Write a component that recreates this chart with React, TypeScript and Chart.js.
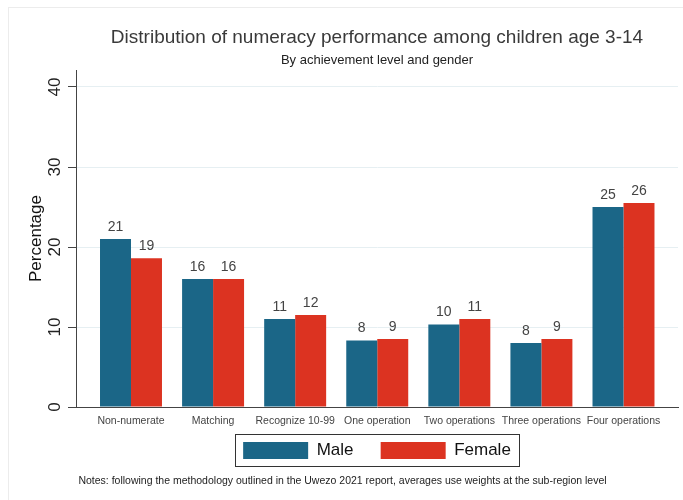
import React, { useEffect, useRef } from 'react';
import { Chart, registerables } from 'chart.js';

Chart.register(...registerables);

const categories = ['Non-numerate', 'Matching', 'Recognize 10-99', 'One operation', 'Two operations', 'Three operations', 'Four operations'];
const maleValues = [21.0, 16.0, 11.0, 8.3, 10.3, 8.0, 25.0];
const femaleValues = [18.6, 16.0, 11.5, 8.5, 11.0, 8.5, 25.5];
const seriesNames = ['Male', 'Female'];
const yTickStep = 10;
const titleText = 'Distribution of numeracy performance among children age 3-14';
const subtitleText = 'By achievement level and gender';
const yTitleText = 'Percentage';
const notesText = 'Notes: following the methodology outlined in the Uwezo 2021 report, averages use weights at the sub-region level';

const FONT = '"Liberation Sans", Arial, Helvetica, sans-serif';
const BLUE = '#1b6687';
const RED = '#dc3321';

const valueLabelPlugin = {
  id: 'valueLabels',
  afterDatasetsDraw(chart: any) {
    const ctx = chart.ctx;
    ctx.save();
    ctx.font = `14px ${FONT}`;
    ctx.fillStyle = '#444';
    ctx.textAlign = 'center';
    ctx.textBaseline = 'middle';
    chart.data.datasets.forEach((ds: any, di: number) => {
      const meta = chart.getDatasetMeta(di);
      meta.data.forEach((el: any, i: number) => {
        const v = ds.data[i].y;
        ctx.fillText(String(Math.round(v)), el.x, el.y - 12);
      });
    });
    ctx.restore();
  },
};

const decorPlugin = {
  id: 'decor',
  beforeDraw(chart: any) {
    const ctx = chart.ctx;
    ctx.save();
    ctx.fillStyle = '#ffffff';
    ctx.fillRect(0, 0, chart.width, chart.height);
    ctx.strokeStyle = '#ececec';
    ctx.lineWidth = 1;
    ctx.strokeRect(8.5, 7.5, chart.width + 20, chart.height + 20);
    ctx.restore();
  },
  afterDraw(chart: any) {
    const ctx = chart.ctx;
    ctx.save();
    const legend = chart.legend;
    const hb = legend && legend.legendHitBoxes;
    if (hb && hb.length) {
      const first = hb[0];
      const last = hb[hb.length - 1];
      ctx.font = `17px ${FONT}`;
      const lastTextW = ctx.measureText(seriesNames[seriesNames.length - 1]).width;
      const lastRight = last.left + 65 + 8.5 + lastTextW;
      const left = Math.round(first.left - 8) + 0.5;
      const right = Math.round(lastRight + 8) + 0.5;
      const top = Math.round(first.top - 8) + 0.5;
      const bottom = Math.round(first.top + first.height + 7) + 0.5;
      ctx.strokeStyle = '#333';
      ctx.lineWidth = 1;
      ctx.strokeRect(left, top, right - left, bottom - top);
    }
    ctx.font = `10.5px ${FONT}`;
    ctx.fillStyle = '#222';
    ctx.textAlign = 'center';
    ctx.textBaseline = 'middle';
    ctx.fillText(notesText, 342.5, 481);
    ctx.restore();
  },
};

export default function App() {
  const ref = useRef<HTMLCanvasElement | null>(null);

  useEffect(() => {
    document.body.style.margin = '0';
    const canvas = ref.current;
    if (!canvas) return;
    const defaultGen = (Chart as any).defaults.plugins.legend.labels.generateLabels;
    const chart = new Chart(canvas, {
      type: 'bar',
      data: {
        datasets: [
          {
            label: seriesNames[0],
            data: categories.map((_, i) => ({ x: i, y: maleValues[i] })),
            backgroundColor: BLUE,
            borderWidth: 0,
          },
          {
            label: seriesNames[1],
            data: categories.map((_, i) => ({ x: i, y: femaleValues[i] })),
            backgroundColor: RED,
            borderWidth: 0,
          },
        ],
      },
      options: {
        responsive: false,
        animation: false,
        devicePixelRatio: 1,
        events: [],
        datasets: {
          bar: { categoryPercentage: 0.755, barPercentage: 1, grouped: true },
        },
        layout: { padding: { left: 0, right: 5, top: 0, bottom: 31 } },
        scales: {
          x: {
            type: 'linear',
            position: 'bottom',
            offset: false,
            min: -0.67,
            max: 6.664,
            grid: { display: false, drawTicks: false, tickLength: 0 },
            border: { display: true, color: '#444', width: 1 },
            ticks: {
              stepSize: 1,
              includeBounds: false,
              autoSkip: false,
              maxRotation: 0,
              minRotation: 0,
              padding: 8,
              color: '#444',
              font: { family: FONT, size: 10.5 },
              callback: (v: any) => (Number.isInteger(v) && categories[v] !== undefined ? categories[v] : ''),
            },
            afterFit: (s: any) => { s.height = 22; },
          },
          y: {
            min: 0,
            max: 42.125,
            grid: { color: '#e6eff2', lineWidth: 1, drawTicks: true, tickLength: 8, tickColor: '#444' },
            border: { display: true, color: '#444', width: 1 },
            ticks: {
              stepSize: yTickStep,
              includeBounds: false,
              minRotation: 90,
              maxRotation: 90,
              crossAlign: 'center',
              padding: 3.5,
              color: '#222',
              font: { family: FONT, size: 17 },
            },
            title: {
              display: true,
              text: yTitleText,
              color: '#111',
              font: { family: FONT, size: 17 },
              padding: { top: 26, bottom: 0 },
            },
            afterFit: (s: any) => { s.width = 76; },
          },
        },
        plugins: {
          title: {
            display: true,
            text: titleText,
            fullSize: false,
            color: '#3a3a3a',
            font: { family: FONT, size: 19, weight: 'normal' },
            padding: { top: 26.6, bottom: 0 },
          },
          subtitle: {
            display: true,
            text: subtitleText,
            fullSize: false,
            color: '#222',
            font: { family: FONT, size: 13, weight: 'normal' },
            padding: { top: 2.8, bottom: 2.2 },
          },
          legend: {
            display: true,
            position: 'bottom',
            fullSize: false,
            labels: {
              boxWidth: 65,
              boxHeight: 17,
              padding: 13,
              color: '#111',
              font: { family: FONT, size: 17 },
              generateLabels: (c: any) => {
                const items = defaultGen(c);
                items.forEach((it: any, i: number) => {
                  if (i < items.length - 1) it.text = it.text + '   ';
                });
                return items;
              },
            },
          },
          tooltip: { enabled: false },
        },
      },
      plugins: [valueLabelPlugin, decorPlugin],
    } as any);
    return () => chart.destroy();
  }, []);

  return (
    <div style={{ width: 683, height: 500 }}>
      <canvas ref={ref} width={683} height={500} style={{ display: 'block' }} />
    </div>
  );
}
